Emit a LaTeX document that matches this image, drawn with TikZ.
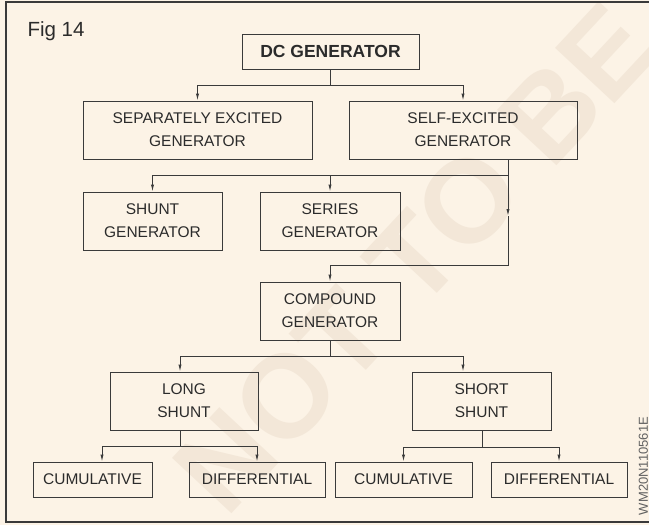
\documentclass[tikz,border=0pt]{standalone}
\usepackage{fontspec}
\setmainfont{Liberation Sans}
\usetikzlibrary{arrows.meta,calc}

\definecolor{paper}{HTML}{FCF3E6}
\definecolor{wmark}{HTML}{F3E7D8}
\definecolor{ink}{HTML}{3A3A3A}
\definecolor{txt}{HTML}{2B2B2B}

\tikzset{
  box/.style={draw=ink, line width=0.9pt, inner sep=0pt, align=center,
    text=txt, font=\fontsize{15.5}{23}\selectfont},
  tallbox/.style={box, minimum height=58pt},
  flatbox/.style={box, minimum height=35pt},
  wire/.style={draw=ink, line width=0.9pt},
  conn/.style={wire, -{Latex[length=7pt,width=3.2pt]}},
}

\begin{document}
\begin{tikzpicture}[x=1pt,y=-1pt]
  % page and paper
  \useasboundingbox (0,0) rectangle (649,525);
  \clip (0,0) rectangle (649,525);
  \fill[paper] (0,0) rectangle (649,525);

  % diagonal stamp
  \node[rotate=47, text=wmark, font=\fontsize{118}{118}\selectfont\bfseries]
    (stamp) at (415,258) {NOT TO BE};

  % frame, open on the right
  \draw[ink, line width=1.1pt] (655,2) -- (6,2) -- (6,522) -- (655,522);

  % caption and code
  \node[anchor=base west, text=txt, font=\fontsize{20.5}{22}\selectfont]
    (fig) at (24,36) {Fig 14};
  \node[rotate=90, text=ink!80, font=\fontsize{13}{13}\selectfont]
    (code) at (643.5,466) {WM20N110561E};

  % boxes
  \node[flatbox, minimum width=177pt, font=\fontsize{17.5}{20}\selectfont\bfseries]
    (dc) at (330.5,51.5) {DC GENERATOR};
  \node[tallbox, minimum width=229pt] (sep)  at (197.5,130) {SEPARATELY EXCITED\\GENERATOR};
  \node[tallbox, minimum width=228pt] (self) at (463,130)   {SELF-EXCITED\\GENERATOR};
  \node[tallbox, minimum width=139pt] (shunt)  at (152.5,221) {SHUNT\\GENERATOR};
  \node[tallbox, minimum width=140pt] (series) at (330,221)   {SERIES\\GENERATOR};
  \node[tallbox, minimum width=140pt] (comp)   at (330,311)   {COMPOUND\\GENERATOR};
  \node[tallbox, minimum width=148pt] (long)   at (184,401)   {LONG\\SHUNT};
  \node[tallbox, minimum width=139pt] (short)  at (481.5,401) {SHORT\\SHUNT};
  \node[flatbox, minimum width=119pt] (cumA) at (92.5,479.5) {CUMULATIVE};
  \node[flatbox, minimum width=136pt] (difA) at (257,479.5)  {DIFFERENTIAL};
  \node[flatbox, minimum width=137pt] (cumB) at (403.5,479.5) {CUMULATIVE};
  \node[flatbox, minimum width=136pt] (difB) at (559,479.5)  {DIFFERENTIAL};

  % DC generator to its two kinds
  \coordinate (busA) at (330.5,85);
  \draw[wire] (dc.south) -- (busA);
  \draw[conn] (busA) -| (sep.north);
  \draw[conn] (busA) -| (self.north);

  % self-excited to shunt, series and compound
  \coordinate (selfout) at (508,159);
  \coordinate (busB) at (508,175);
  \coordinate (midtip) at (508,216);
  \coordinate (bend) at (508,265);
  \draw[conn] (selfout) -- (midtip);
  \draw[conn] (midtip) -- (bend) -| (comp.north);
  \draw[conn] (busB) -| (shunt.north);
  \draw[conn] (busB -| series.north) -- (series.north);

  % compound to long and short shunt
  \coordinate (busC) at (330,356);
  \draw[wire] (comp.south) -- (busC);
  \draw[conn] (busC) -| ([xshift=-4pt]long.north);
  \draw[conn] (busC) -| ([xshift=-18.5pt]short.north);

  % long shunt to its two kinds
  \coordinate (busD) at (180,446);
  \draw[wire] ([xshift=-4pt]long.south) -- (busD);
  \draw[conn] (busD) -| ([xshift=9.5pt]cumA.north);
  \draw[conn] (busD) -| (difA.north);

  % short shunt to its two kinds
  \coordinate (busE) at (482,447);
  \draw[wire] (short.south -| busE) -- (busE);
  \draw[conn] (busE) -| (cumB.north);
  \draw[conn] (busE) -| (difB.north);
\end{tikzpicture}
\end{document}
